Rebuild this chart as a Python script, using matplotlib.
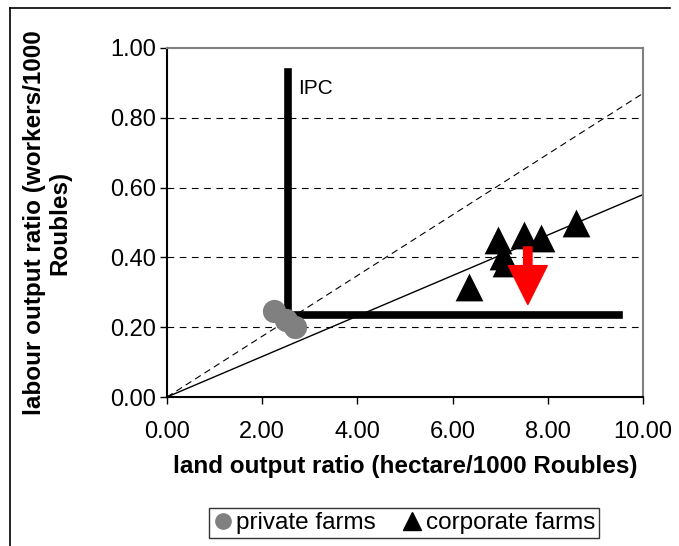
import matplotlib
matplotlib.use("Agg")
import matplotlib.pyplot as plt
from matplotlib.lines import Line2D

plt.rcParams['font.family'] = ['Liberation Sans', 'DejaVu Sans']

# private farms (grey circles)
private_x = [2.25, 2.5, 2.68]
private_y = [0.245, 0.222, 0.200]

# corporate farms (black triangles)
corporate_x = [6.35, 6.95, 7.05, 7.12, 7.5, 7.85, 8.6]
corporate_y = [0.315, 0.450, 0.405, 0.385, 0.465, 0.455, 0.500]

# rays from origin (value at x = 10)
dashed_ray_end = 0.87
solid_ray_end = 0.58

# isoquant (IPC) corner lines
ipc_x = [2.55, 2.55, 9.5]
ipc_y = [0.93, 0.235, 0.235]

# red arrow
arrow_x = 7.58
arrow_y0 = 0.43
arrow_y1 = 0.265

x_ticks = [0, 2, 4, 6, 8, 10]
y_ticks = [0.0, 0.2, 0.4, 0.6, 0.8, 1.0]

fig = plt.figure(figsize=(6.79, 5.46), dpi=100)
ax = fig.add_axes([167/679, 1 - 397/546, (643 - 167)/679, (397 - 48)/546])

# grid lines
for yv in y_ticks[1:-1]:
    ax.plot([0, 10], [yv, yv], color='black', lw=0.8, ls=(0, (6, 5)), zorder=1)

ax.plot([0, 10], [0, dashed_ray_end], color='black', lw=0.8, ls=(0, (6, 4)), zorder=2)
ax.plot([0, 10], [0, solid_ray_end], color='black', lw=1.0, zorder=2)

ax.plot(ipc_x, ipc_y, color='black', lw=5.5, solid_joinstyle='miter', zorder=3)
ax.text(2.75, 0.885, 'IPC', fontsize=15, va='center', ha='left')

ax.scatter(private_x, private_y, s=280, color='#808080', marker='o', zorder=4, linewidths=0)
ax.scatter(corporate_x, corporate_y, s=400, color='black', marker='^', zorder=4, linewidths=0)

ax.annotate('', xy=(arrow_x, arrow_y1), xytext=(arrow_x, arrow_y0),
            arrowprops=dict(facecolor='red', edgecolor='red', width=6,
                            headwidth=28, headlength=28, shrink=0), zorder=5)

ax.set_xlim(0, 10)
ax.set_ylim(0, 1)
ax.set_xticks(x_ticks)
ax.set_yticks(y_ticks)
ax.set_xticklabels(['%.2f' % v for v in x_ticks], fontsize=17)
ax.set_yticklabels(['%.2f' % v for v in y_ticks], fontsize=17)
ax.tick_params(axis='x', direction='out', length=5, width=1, pad=12)
ax.tick_params(axis='y', direction='out', length=5, width=1, pad=3)

ax.spines['top'].set_color('#808080')
ax.spines['right'].set_color('#808080')
for s in ax.spines.values():
    s.set_linewidth(1.5)

ax.set_xlabel('land output ratio (hectare/1000 Roubles)', fontsize=17.5,
              fontweight='bold', labelpad=9)
ax.set_ylabel('labour output ratio (workers/1000\nRoubles)', fontsize=17.5,
              fontweight='bold', labelpad=28, linespacing=1.1)

handles = [
    Line2D([], [], marker='o', color='#808080', ls='none', markersize=11),
    Line2D([], [], marker='^', color='black', ls='none', markersize=13),
]
leg = fig.legend(handles, ['private farms', 'corporate farms'], loc='center',
                 bbox_to_anchor=(404/679, 1 - 523/546), ncol=2, fontsize=17.5,
                 frameon=True, fancybox=False, handlelength=0.8, handletextpad=0.15,
                 columnspacing=1.1, borderpad=0.15, borderaxespad=0)
leg.get_frame().set_edgecolor('black')
leg.get_frame().set_linewidth(1.0)

# outer frame lines
fig.add_artist(Line2D([10/679, 10/679], [0, 1 - 8/546], color='black', lw=1.2,
                      transform=fig.transFigure))
fig.add_artist(Line2D([10/679, 670/679], [1 - 8/546, 1 - 8/546], color='black', lw=1.2,
                      transform=fig.transFigure))

fig.savefig('out.png', dpi=100)
